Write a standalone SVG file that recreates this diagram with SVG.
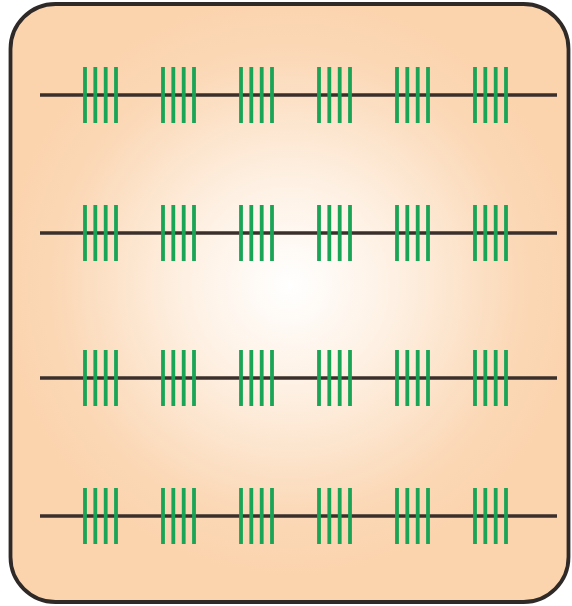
<svg xmlns="http://www.w3.org/2000/svg" width="572" height="606" viewBox="0 0 572 606">
<defs>
<radialGradient id="bg" cx="290" cy="285" r="290" gradientUnits="userSpaceOnUse">
<stop offset="0" stop-color="#ffffff"/>
<stop offset="0.35" stop-color="#fef1e4"/>
<stop offset="0.8" stop-color="#fbd8b6"/>
<stop offset="1" stop-color="#fbd4ae"/>
</radialGradient>
<g id="ticks">
<line x1="-15.5" y1="-28" x2="-15.5" y2="28"/>
<line x1="-5.2" y1="-28" x2="-5.2" y2="28"/>
<line x1="5.2" y1="-28" x2="5.2" y2="28"/>
<line x1="15.5" y1="-28" x2="15.5" y2="28"/>
</g>
</defs>
<style>
.frame{fill:url(#bg);stroke:#2f2a28;stroke-width:3.8}
.axis{stroke:#3a2f2b;stroke-width:3.5}
.tk{stroke:#19a456;stroke-width:3.8}
</style>
<rect class="frame" x="10.5" y="4" width="558" height="598" rx="45" ry="45"/>
<g id="connectors">
<line class="axis" x1="40" y1="95" x2="557" y2="95"/>
<line class="axis" x1="40" y1="233" x2="557" y2="233"/>
<line class="axis" x1="40" y1="378" x2="557" y2="378"/>
<line class="axis" x1="40" y1="516" x2="557" y2="516"/>
</g>
<g id="row1" class="tk">
<use href="#ticks" x="100.5" y="95"/><use href="#ticks" x="178.5" y="95"/><use href="#ticks" x="256.5" y="95"/><use href="#ticks" x="334.5" y="95"/><use href="#ticks" x="412.5" y="95"/><use href="#ticks" x="490.5" y="95"/>
</g>
<g id="row2" class="tk">
<use href="#ticks" x="100.5" y="233"/><use href="#ticks" x="178.5" y="233"/><use href="#ticks" x="256.5" y="233"/><use href="#ticks" x="334.5" y="233"/><use href="#ticks" x="412.5" y="233"/><use href="#ticks" x="490.5" y="233"/>
</g>
<g id="row3" class="tk">
<use href="#ticks" x="100.5" y="378"/><use href="#ticks" x="178.5" y="378"/><use href="#ticks" x="256.5" y="378"/><use href="#ticks" x="334.5" y="378"/><use href="#ticks" x="412.5" y="378"/><use href="#ticks" x="490.5" y="378"/>
</g>
<g id="row4" class="tk">
<use href="#ticks" x="100.5" y="516"/><use href="#ticks" x="178.5" y="516"/><use href="#ticks" x="256.5" y="516"/><use href="#ticks" x="334.5" y="516"/><use href="#ticks" x="412.5" y="516"/><use href="#ticks" x="490.5" y="516"/>
</g>
</svg>
